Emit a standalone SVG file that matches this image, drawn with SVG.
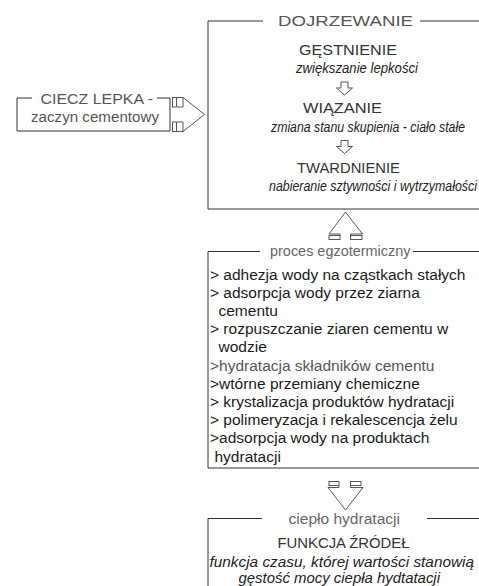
<svg xmlns="http://www.w3.org/2000/svg" width="479" height="586" viewBox="0 0 479 586">
<style>
text{font-family:"Liberation Sans",Arial,sans-serif;font-size:15.5px;fill:#1a1a1a}
.g{fill:#555}
.t{fill:#333}
.i{font-style:italic;fill:#222}
.ln{fill:none;stroke:#333;stroke-width:1}
.ar{fill:#fff;stroke:#555;stroke-width:1}
</style>
<rect width="479" height="586" fill="#fff"/>
<g id="ciecz">
<path class="ln" d="M32,98 H17 V131 H170 V98 H157"/>
<text class="g" x="40.5" y="103.5" textLength="112.5" lengthAdjust="spacingAndGlyphs">CIECZ LEPKA -</text>
<text class="g" x="31" y="122" textLength="128" lengthAdjust="spacingAndGlyphs">zaczyn cementowy</text>
</g>
<g id="dojrzewanie">
<path class="ln" d="M479,21 H420 M263,21 H208 V209 H479"/>
<text class="g" x="278" y="26" font-size="16.5" textLength="135" lengthAdjust="spacingAndGlyphs">DOJRZEWANIE</text>
<text class="t" x="299" y="54.5" textLength="98" lengthAdjust="spacingAndGlyphs">GĘSTNIENIE</text>
<text class="i" x="296" y="72.5" font-size="15" textLength="122" lengthAdjust="spacingAndGlyphs">zwiększanie lepkości</text>
<text class="t" x="303" y="113" textLength="79" lengthAdjust="spacingAndGlyphs">WIĄZANIE</text>
<text class="i" x="271" y="131.5" font-size="15" textLength="194" lengthAdjust="spacingAndGlyphs">zmiana stanu skupienia - ciało stałe</text>
<text class="t" x="297" y="172.5" textLength="103" lengthAdjust="spacingAndGlyphs">TWARDNIENIE</text>
<text class="i" x="269" y="190.5" font-size="15" textLength="208" lengthAdjust="spacingAndGlyphs">nabieranie sztywności i wytrzymałości</text>
</g>
<g id="proces">
<path class="ln" d="M479,251.5 H413 M260,251.5 H208 V468 H479"/>
<text x="270" y="256" style="fill:#666" textLength="140.5" lengthAdjust="spacingAndGlyphs">proces egzotermiczny</text>
<text x="210" y="279.5">&gt; adhezja wody na cząstkach stałych</text>
<text x="210" y="297.7">&gt; adsorpcja wody przez ziarna</text>
<text x="218.5" y="315.9">cementu</text>
<text x="210" y="334.1">&gt; rozpuszczanie ziaren cementu w</text>
<text x="218.5" y="352.3">wodzie</text>
<text class="g" x="210" y="370.5">&gt;hydratacja składników cementu</text>
<text x="210" y="388.7">&gt;wtórne przemiany chemiczne</text>
<text x="210" y="406.9">&gt; krystalizacja produktów hydratacji</text>
<text x="210" y="425.1">&gt; polimeryzacja i rekalescencja żelu</text>
<text x="210" y="443.3">&gt;adsorpcja wody na produktach</text>
<text x="214.5" y="461.5">hydratacji</text>
</g>
<g id="funkcja">
<path class="ln" d="M479,518.5 H427 M262,518.5 H208 V586"/>
<text x="288.5" y="524" style="fill:#666" textLength="111.5" lengthAdjust="spacingAndGlyphs">ciepło hydratacji</text>
<text class="t" x="277.5" y="548" font-size="16" textLength="132" lengthAdjust="spacingAndGlyphs">FUNKCJA ŹRÓDEŁ</text>
<text class="i" x="209.5" y="567" font-size="15.5" textLength="264.5" lengthAdjust="spacingAndGlyphs">funkcja czasu, której wartości stanowią</text>
<text class="i" x="238.5" y="583" font-size="15.5" textLength="201.5" lengthAdjust="spacingAndGlyphs">gęstość mocy ciepła hydtatacji</text>
</g>
<g id="connectors">
<g id="arrow-right">
<rect class="ar" x="172.5" y="97.5" width="4" height="9.5"/>
<rect class="ar" x="172.5" y="122" width="4" height="9.5"/>
<path class="ar" d="M176.5,107 H183 V97.5 L204.5,114.5 L183,131.5 V122 H176.5"/>
<path class="ar" d="M176.5,97.5 H183 M176.5,131.5 H183"/>
</g>
<path class="ar" d="M341,82 H348 V88 H352.5 L344.5,95 L336.5,88 H341 Z"/>
<path class="ar" d="M341,140.5 H348 V146.5 H352.5 L344.5,153.5 L336.5,146.5 H341 Z"/>
<g id="arrow-up">
<path class="ar" d="M340,235.5 V234 H329 L345.5,212 L362.5,234 H350.5 V235.5"/>
<rect class="ar" x="329" y="235.5" width="11" height="4"/>
<rect class="ar" x="350.5" y="235.5" width="11.5" height="4"/>
</g>
<g id="arrow-down">
<rect class="ar" x="329" y="481.5" width="10" height="4"/>
<rect class="ar" x="350.5" y="481.5" width="10.5" height="4"/>
<path class="ar" d="M339,485.5 V487.5 H328 L345.5,510 L363,487.5 H350.5 V485.5"/>
</g>
</g>
</svg>
